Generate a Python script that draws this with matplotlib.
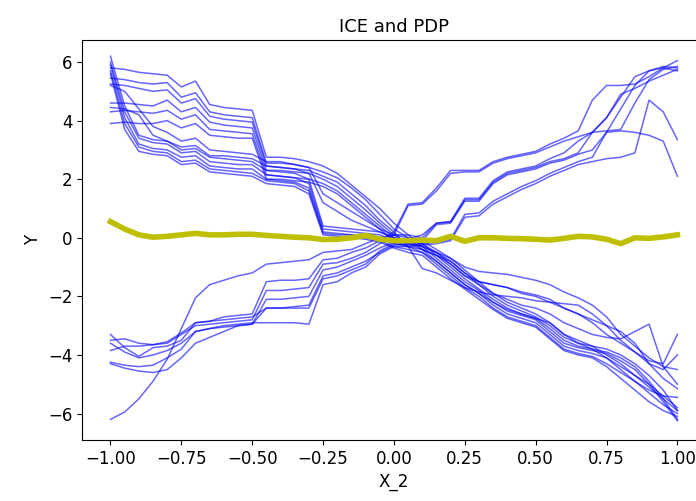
import numpy as np
import matplotlib
matplotlib.use("Agg")
import matplotlib.pyplot as plt

# grid of X_2 values the ICE curves were evaluated on
x_grid = np.linspace(-1, 1, 41)

# ICE curves that go down with X_2
ice_d1 = [5.8, 5.75, 5.65, 5.6, 5.55, 5.15, 5.35, 4.55, 4.45, 4.4, 4.35, 2.75, 2.75, 2.7, 2.6, 2.45, 2.2, 1.8, 1.4, 1.0, 0.5,
          0.1, -0.3, -0.5, -0.7, -1.0, -1.15, -1.2, -1.25, -1.35, -1.45, -1.6, -1.85, -2.05, -2.3, -2.7, -3.3, -3.7, -4.1, -4.4, -4.5]
ice_d2 = [5.45, 5.4, 5.3, 5.25, 5.3, 4.8, 4.95, 4.3, 4.2, 4.15, 4.1, 2.55, 2.55, 2.5, 2.4, 2.25, 2.05, 1.7, 1.3, 0.8, 0.3,
          0.0, -0.4, -0.6, -0.9, -1.3, -1.5, -1.6, -1.7, -1.85, -1.95, -2.1, -2.4, -2.6, -2.8, -3.0, -3.2, -3.6, -4.3, -4.5, -4.0]
ice_d3 = [5.25, 5.2, 5.1, 5.0, 5.05, 4.6, 4.75, 4.15, 4.05, 4.0, 3.95, 2.45, 2.4, 2.35, 2.3, 2.1, 1.9, 1.5, 1.1, 0.6, 0.2,
          -0.3, -1.05, -1.2, -1.45, -1.7, -1.85, -1.95, -2.0, -2.05, -2.15, -2.2, -2.25, -2.3, -2.6, -3.0, -3.5, -3.9, -4.3, -4.8, -5.15]
ice_d4 = [4.6, 4.6, 4.55, 4.5, 4.7, 4.3, 4.45, 3.95, 3.85, 3.8, 3.75, 2.3, 2.3, 2.25, 2.2, 2.0, 1.75, 1.35, 0.95, 0.5, 0.1,
          -0.2, -0.4, -0.6, -0.8, -1.2, -1.5, -1.6, -1.7, -1.9, -2.0, -2.2, -2.4, -2.6, -2.9, -3.3, -3.6, -3.9, -4.2, -4.3, -3.3]
ice_d5 = [4.3, 4.35, 4.3, 4.25, 4.35, 4.05, 4.2, 3.7, 3.65, 3.6, 3.55, 2.15, 2.1, 2.05, 2.0, 1.85, 1.6, 1.2, 0.8, 0.4, 0.0,
          -0.15, -0.3, -0.5, -0.9, -1.3, -1.6, -1.9, -2.1, -2.3, -2.4, -2.6, -2.9, -3.1, -3.3, -3.4, -3.45, -3.2, -2.95, -4.4, -5.0]
ice_d6 = [3.9, 3.95, 3.9, 3.9, 4.0, 3.75, 3.9, 3.5, 3.45, 3.4, 3.4, 2.0, 2.0, 1.95, 1.9, 1.75, 1.5, 1.1, 0.7, 0.3, -0.1,
          -0.3, -0.5, -0.8, -1.2, -1.6, -1.9, -2.2, -2.45, -2.6, -2.75, -2.9, -3.3, -3.6, -3.7, -3.8, -4.0, -4.3, -4.7, -5.2, -5.9]
ice_d7 = [6.2, 4.5, 3.5, 3.35, 3.3, 3.0, 3.05, 2.75, 2.7, 2.65, 2.6, 2.3, 2.25, 2.2, 2.0, 0.4, 0.35, 0.3, 0.25, 0.2, 0.0,
          -0.1, -0.2, -0.6, -1.0, -1.4, -1.75, -2.1, -2.4, -2.6, -2.75, -3.1, -3.5, -3.7, -3.8, -3.9, -4.1, -4.4, -4.9, -5.5, -6.2]
ice_d8 = [6.0, 4.3, 3.4, 3.25, 3.2, 2.9, 2.95, 2.6, 2.55, 2.5, 2.5, 2.15, 2.1, 2.05, 1.85, 0.3, 0.25, 0.2, 0.15, 0.1, -0.1,
          -0.2, -0.3, -0.7, -1.1, -1.5, -1.8, -2.2, -2.5, -2.65, -2.8, -3.2, -3.6, -3.75, -3.85, -3.95, -4.2, -4.5, -5.0, -5.6, -6.25]
ice_d9 = [5.9, 4.1, 3.2, 3.05, 3.0, 2.75, 2.8, 2.45, 2.4, 2.35, 2.35, 2.0, 1.95, 1.9, 1.7, 0.2, 0.15, 0.1, 0.05, 0.0, -0.2,
          -0.3, -0.4, -0.8, -1.2, -1.6, -1.9, -2.3, -2.6, -2.75, -2.9, -3.3, -3.7, -3.85, -3.95, -4.1, -4.4, -4.7, -5.1, -5.5, -5.9]
ice_d10 = [5.7, 3.9, 3.1, 2.95, 2.9, 2.6, 2.65, 2.35, 2.3, 2.25, 2.2, 1.95, 1.9, 1.85, 1.6, 0.15, 0.1, 0.1, 0.0, -0.1, -0.3,
           -0.4, -0.5, -0.9, -1.3, -1.7, -2.0, -2.4, -2.7, -2.85, -3.0, -3.4, -3.8, -3.95, -4.05, -4.3, -4.6, -4.9, -5.2, -5.4, -5.45]
ice_d11 = [5.6, 3.7, 2.95, 2.85, 2.8, 2.5, 2.55, 2.25, 2.2, 2.15, 2.1, 1.85, 1.8, 1.75, 1.5, 0.1, 0.05, 0.0, -0.05, -0.15, -0.35,
           -0.5, -0.6, -1.0, -1.4, -1.75, -2.1, -2.45, -2.75, -2.9, -3.05, -3.45, -3.85, -4.0, -4.1, -4.4, -4.8, -5.2, -5.6, -5.9, -6.1]
ice_d12 = [4.45, 4.4, 4.2, 3.5, 3.3, 3.1, 3.15, 2.8, 2.8, 2.75, 2.7, 2.45, 2.4, 2.35, 2.2, 1.2, 0.9, 0.6, 0.4, 0.2, 0.0,
           -0.1, -0.2, -0.5, -0.8, -1.2, -1.6, -2.0, -2.3, -2.5, -2.7, -3.0, -3.4, -3.6, -3.8, -4.1, -4.5, -4.9, -5.3, -5.7, -6.0]
ice_d13 = [5.2, 5.0, 4.4, 3.8, 3.6, 3.3, 3.4, 3.0, 2.95, 2.9, 2.85, 2.6, 2.6, 2.5, 2.4, 1.5, 1.2, 0.9, 0.6, 0.3, 0.1,
           0.0, -0.1, -0.4, -0.7, -1.1, -1.5, -1.9, -2.2, -2.4, -2.6, -2.9, -3.3, -3.5, -3.7, -4.0, -4.3, -4.7, -5.0, -5.4, -5.8]

# ICE curves that go up with X_2
ice_u1 = [-3.3, -3.75, -4.05, -3.75, -3.7, -3.5, -2.9, -2.85, -2.7, -2.65, -2.6, -1.5, -1.45, -1.45, -1.4, -0.75, -0.7, -0.5, -0.35, -0.1, 0.2,
          1.15, 1.2, 1.7, 2.3, 2.3, 2.3, 2.6, 2.75, 2.85, 2.95, 3.2, 3.4, 3.65, 4.7, 5.2, 5.2, 5.25, 5.5, 5.8, 6.05]
ice_u2 = [-3.5, -3.45, -3.6, -3.65, -3.6, -3.3, -3.0, -2.95, -2.9, -2.85, -2.8, -1.8, -1.8, -1.75, -1.7, -0.9, -0.85, -0.7, -0.5, -0.2, 0.1,
          1.1, 1.15, 1.6, 2.2, 2.25, 2.25, 2.55, 2.7, 2.8, 2.9, 3.1, 3.3, 3.45, 3.6, 4.1, 4.9, 5.1, 5.35, 5.55, 5.75]
ice_u3 = [-3.6, -3.9, -4.1, -4.0, -3.85, -3.6, -3.2, -3.1, -3.05, -3.0, -2.95, -2.1, -2.1, -2.05, -2.0, -1.1, -1.0, -0.8, -0.6, -0.35, -0.15,
          -0.05, 0.1, 0.5, 0.55, 1.3, 1.3, 1.9, 2.2, 2.3, 2.4, 2.6, 2.7, 2.9, 3.6, 4.1, 4.8, 5.5, 5.7, 5.8, 5.7]
ice_u4 = [-3.85, -3.7, -3.7, -3.65, -3.55, -3.25, -2.9, -2.85, -2.8, -2.75, -2.7, -2.4, -2.4, -2.35, -2.3, -1.3, -1.2, -1.0, -0.8, -0.5, -0.25,
          -0.2, -0.1, 0.45, 0.5, 1.25, 1.25, 1.85, 2.15, 2.25, 2.35, 2.55, 2.65, 2.85, 3.0, 3.6, 4.4, 5.2, 5.7, 5.85, 5.8]
ice_u5 = [-4.25, -4.35, -4.4, -4.35, -4.1, -3.8, -3.2, -3.1, -3.0, -2.95, -2.9, -2.9, -2.9, -2.9, -2.95, -1.6, -1.5, -1.2, -1.0, -0.55, -0.3,
          -0.3, -0.25, -0.2, -0.1, 0.7, 0.75, 1.15, 1.4, 1.65, 1.85, 2.1, 2.3, 2.5, 2.6, 2.7, 2.75, 2.9, 4.7, 4.3, 3.35]
ice_u6 = [-4.3, -4.45, -4.55, -4.6, -4.5, -4.1, -3.6, -3.4, -3.2, -3.0, -2.95, -2.4, -2.4, -2.4, -2.4, -1.4, -1.3, -1.1, -0.9, -0.45, -0.2,
          -0.25, -0.2, -0.15, -0.05, 0.8, 0.85, 1.25, 1.5, 1.75, 1.95, 2.2, 2.4, 2.6, 2.75, 3.6, 3.65, 3.6, 3.5, 3.3, 2.1]
ice_u7 = [-6.2, -5.95, -5.5, -4.9, -4.15, -3.1, -2.05, -1.6, -1.45, -1.3, -1.2, -0.9, -0.85, -0.8, -0.75, -0.5, -0.45, -0.4, -0.2, 0.0, 0.1,
          0.1, 0.0, 0.5, 0.55, 1.35, 1.35, 1.95, 2.25, 2.35, 2.45, 2.7, 2.9, 3.3, 3.6, 3.65, 3.7, 4.6, 5.4, 5.75, 5.85]

# partial dependence (average) curve
pdp = [0.55, 0.3, 0.1, 0.02, 0.05, 0.1, 0.15, 0.1, 0.1, 0.12, 0.12, 0.08, 0.05, 0.02, 0.0, -0.06, -0.05, 0.0, 0.08, -0.05, -0.1,
       -0.1, -0.08, -0.1, 0.05, -0.12, 0.0, 0.0, -0.02, -0.03, -0.05, -0.08, -0.02, 0.05, 0.03, -0.05, -0.2, 0.0, -0.02, 0.03, 0.1]

ice_lines = [ice_d1, ice_d2, ice_d3, ice_d4, ice_d5, ice_d6, ice_d7, ice_d8, ice_d9,
             ice_d10, ice_d11, ice_d12, ice_d13,
             ice_u1, ice_u2, ice_u3, ice_u4, ice_u5, ice_u6, ice_u7]

fig = plt.figure(figsize=(6.96, 5.01), dpi=100)
# the original picture is cut off on the right, so the axes run past the figure edge
ax = fig.add_axes([0.118, 0.122, 0.896, 0.798])

for line in ice_lines:
    ax.plot(x_grid, line, color='b', alpha=0.6, linewidth=1.1)
ax.plot(x_grid, pdp, color='y', linewidth=4)

ax.set_xlim(-1.1, 1.1)
ax.set_ylim(-6.9, 6.75)
ax.set_xticks([-1.0, -0.75, -0.5, -0.25, 0.0, 0.25, 0.5, 0.75, 1.0])
ax.set_yticks([-6, -4, -2, 0, 2, 4, 6])
ax.tick_params(labelsize=12)
ax.set_title("ICE and PDP", fontsize=13)
ax.set_xlabel("X_2", fontsize=12)
ax.set_ylabel("Y", fontsize=12)

fig.savefig("out.png", dpi=100)
